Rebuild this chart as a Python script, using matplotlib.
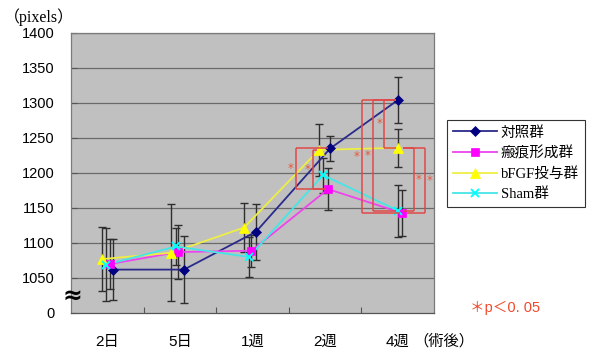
import matplotlib
matplotlib.use("Agg")
import matplotlib.pyplot as plt
from matplotlib.lines import Line2D

# ---- data -------------------------------------------------------------
categories = ["2日", "5日", "1週", "2週", "4週"]
series_names = ["対照群", "瘢痕形成群", "bFGF投与群", "Sham群"]

control_mean = [1062, 1062, 1116, 1235, 1304]
control_sd = [43, 48, 40, 18, 33]
scar_mean = [1070, 1087, 1089, 1177, 1143]
scar_sd = [36, 39, 23, 30, 33]
bfgf_mean = [1077, 1086, 1122, 1233, 1236]
bfgf_sd = [46, 69, 35, 37, 27]
sham_mean = [1069, 1095, 1080, 1197, 1146]
sham_sd = [52, 26, 28, 25, 37]

y_ticks = [1000, 1050, 1100, 1150, 1200, 1250, 1300, 1350, 1400]
y_tick_labels = ["0", "1050", "1100", "1150", "1200", "1250", "1300", "1350", "1400"]

# significant pairs: (category index, upper series, lower series)
sig_pairs = [(3, 0, 1), (3, 2, 1), (4, 0, 1), (4, 0, 3), (4, 0, 2), (4, 2, 3), (4, 2, 1)]

# ---- styling ----------------------------------------------------------
means = [control_mean, scar_mean, bfgf_mean, sham_mean]
sds = [control_sd, scar_sd, bfgf_sd, sham_sd]
colors = ["#000080", "#FF00FF", "#FFFF00", "#00FFFF"]
line_colors = ["#2a2a8a", "#ee44ee", "#eeee44", "#44e6e6"]
markers = ["D", "s", "^", "x"]
msizes = [5, 6, 7.5, 6]
# small horizontal shifts (category units) so the error bars do not overlap
x_shift = [
    [0.083, 0.055, 0.048, 0.069, 0.0],
    [0.037, -0.028, -0.014, 0.041, 0.055],
    [-0.073, -0.124, -0.117, -0.083, 0.0],
    [-0.018, -0.055, -0.048, -0.028, 0.007],
]
# bracket vertical position relative to the category centre, and star side
bracket_x = [-0.405, -0.171, -0.496, -0.344, -0.185, 0.229, 0.376]
bracket_side = ["L", "L", "L", "L", "L", "R", "R"]
sig_color = "#e04848"
star_color = "#e8583c"

W, H = 596, 352
fig = plt.figure(figsize=(W / 100, H / 100), dpi=100)
fig.patch.set_facecolor("white")
ax = fig.add_axes([71 / W, 1 - 313 / H, (434 - 71) / W, (313 - 33) / H])
ax.set_facecolor("#c0c0c0")

sans_jp = ["Liberation Sans", "Noto Sans CJK JP"]
serif_jp = ["Liberation Serif", "Noto Sans CJK JP"]

n = len(categories)
centres = [i + 0.5 for i in range(n)]

# gridlines
for yv in y_ticks[1:]:
    ax.axhline(yv, color="#6a6a6a", lw=0.9, zorder=1)

xs_all = []
for k in range(len(means)):
    xs = [c + s for c, s in zip(centres, x_shift[k])]
    xs_all.append(xs)
    ax.errorbar(xs, means[k], yerr=sds[k], fmt="none", ecolor="#2e2e2e",
                elinewidth=1.0, capsize=3.2, capthick=1.0, zorder=3)
for k in range(len(means)):
    xs = xs_all[k]
    ax.plot(xs, means[k], color=line_colors[k], lw=1.3, zorder=4)
    mew = 1.4 if markers[k] == "x" else 0.5
    ax.plot(xs, means[k], linestyle="none", marker=markers[k], ms=msizes[k],
            color=colors[k], mec=colors[k], mew=mew, zorder=5)

# significance brackets
for (ci, up, lo), bx, side in zip(sig_pairs, bracket_x, bracket_side):
    vx = centres[ci] + bx
    y_top = means[up][ci]
    y_bot = means[lo][ci]
    px_top = xs_all[up][ci]
    px_bot = xs_all[lo][ci]
    kw = dict(color=sig_color, lw=1.1, zorder=6, solid_capstyle="butt")
    ax.plot([vx, vx], [y_top, y_bot], **kw)
    if side == "L":
        ax.plot([vx, px_top - 0.03], [y_top, y_top], **kw)
        ax.plot([vx, px_bot - 0.03], [y_bot, y_bot], **kw)
        sx = vx - 0.065
    else:
        ax.plot([px_top + 0.07, vx], [y_top, y_top], **kw)
        ax.plot([px_bot + 0.07, vx], [y_bot, y_bot], **kw)
        sx = vx + 0.065
    ax.text(sx, (y_top + y_bot) / 2, "*", color=star_color, fontsize=8.5,
            ha="center", va="center", zorder=7)

ax.set_xlim(0, n)
ax.set_ylim(1000, 1400)
ax.set_yticks(y_ticks)
ax.set_yticklabels(y_tick_labels, family=sans_jp, fontsize=10.5)
ax.set_xticks([i for i in range(1, n)])
ax.set_xticks(centres, minor=True)
ax.set_xticklabels([])
ax.set_xticklabels(categories, minor=True, family=sans_jp, fontsize=11)
ax.tick_params(axis="x", which="major", direction="in", length=4, color="#555555")
ax.tick_params(axis="x", which="minor", length=0, pad=15.5)
ax.tick_params(axis="y", direction="in", length=4, color="#555555", pad=12)
for sp in ax.spines.values():
    sp.set_color("#7a7a7a")
    sp.set_linewidth(0.9)
ax.spines["bottom"].set_color("#555555")

# texts around the plot
fig.text(4 / W, 1 - 17 / H, "（pixels）", family=serif_jp, fontsize=11.5,
         ha="left", va="center")
fig.text(72 / W, 1 - 296 / H, "≈", family="DejaVu Sans", fontsize=17,
         fontweight="bold", ha="center", va="center")
fig.text(413 / W, 1 - 341 / H, "（術後）", family=sans_jp, fontsize=11,
         ha="left", va="center")
fig.text(470 / W, 1 - 308 / H, "＊p＜0. 05", family=sans_jp, fontsize=10.5,
         color="#f04a2a", ha="left", va="center")

# legend
handles = []
for k in range(len(means)):
    mew = 1.4 if markers[k] == "x" else 0.5
    handles.append(Line2D([0], [0], color=line_colors[k], lw=1.3, marker=markers[k],
                          ms=msizes[k], mfc=colors[k], mec=colors[k], mew=mew))
leg = fig.legend(handles, series_names, loc="upper left",
                 bbox_to_anchor=(447 / W, 1 - 120 / H), frameon=True,
                 fancybox=False, edgecolor="#333333", framealpha=1,
                 prop={"family": serif_jp, "size": 10.5},
                 handlelength=3.0, handletextpad=0.3, labelspacing=0.45,
                 borderpad=0.4, borderaxespad=0)
leg.get_frame().set_linewidth(0.8)

fig.savefig("out.png", dpi=100, facecolor="white")
